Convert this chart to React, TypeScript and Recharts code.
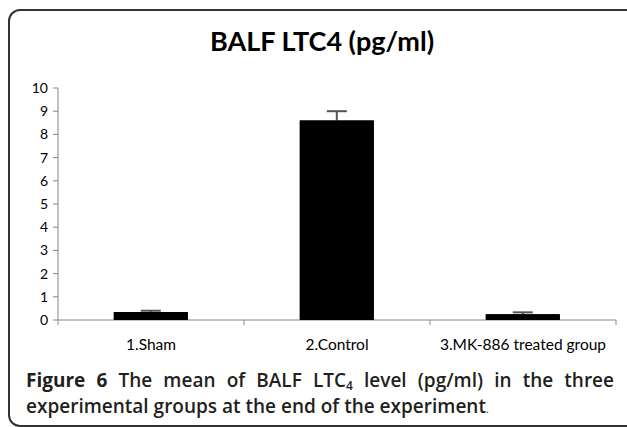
import React from "react";
import { BarChart, Bar, XAxis, YAxis, ErrorBar } from "recharts";

// chart values
const groups = ["1.Sham", "2.Control", "3.MK-886 treated group"];
const meanLTC4 = [0.35, 8.6, 0.25];
const upperError = [0.05, 0.4, 0.08];
const yTicks = [0, 1, 2, 3, 4, 5, 6, 7, 8, 9, 10];

// lower arm is tucked just inside the bar, so the black bar drawn on top hides it
const data = groups.map((g, i) => ({
  group: g,
  value: meanLTC4[i],
  err: [0.15, upperError[i]],
}));

const axisGray = "#868686";

// category label plus Excel-style tick marks on the category boundaries
const CategoryTick = (props: any) => {
  const { x, y, payload, index, width, visibleTicksCount } = props;
  const band = width / visibleTicksCount;
  return (
    <g>
      {index === 0 && (
        <line x1={x - band / 2} x2={x - band / 2} y1={y} y2={y + 5} stroke={axisGray} />
      )}
      <line x1={x + band / 2} x2={x + band / 2} y1={y} y2={y + 5} stroke={axisGray} />
      <text x={x} y={y + 30} textAnchor="middle" fontSize={15.5} fill="#000" fontFamily="Lato">
        {payload.value}
      </text>
    </g>
  );
};

export default function App() {
  return (
    <div style={{ position: "absolute", left: 0, top: 0, width: 627, height: 427, overflow: "hidden", background: "#fff" }}>
      <div
        style={{
          position: "absolute",
          left: 8,
          top: 9,
          width: 640,
          height: 414,
          border: "2px solid #333",
          borderRadius: 12,
        }}
      />
      <div
        style={{
          position: "absolute",
          left: 8,
          width: 628,
          top: 24,
          textAlign: "center",
          fontFamily: "Lato",
          fontWeight: 700,
          fontSize: 27,
          color: "#000",
        }}
      >
        BALF LTC4 (pg/ml)
      </div>
      <div style={{ position: "absolute", left: 0, top: 0 }}>
        <BarChart
          width={627}
          height={370}
          data={data}
          margin={{ top: 88, right: 11, left: 0, bottom: 10 }}
          barCategoryGap="30%"
        >
          <XAxis
            dataKey="group"
            height={40}
            interval={0}
            tickLine={false}
            tickSize={0}
            tickMargin={0}
            stroke={axisGray}
            tick={<CategoryTick />}
          />
          <XAxis xAxisId="cover" dataKey="group" hide />
          <YAxis
            width={58}
            domain={[0, 10]}
            ticks={yTicks}
            interval={0}
            stroke={axisGray}
            tickSize={5}
            tickMargin={5}
            tick={{ fill: "#000", fontSize: 14, fontFamily: "Lato" }}
          />
          <Bar dataKey="value" fill="#000" isAnimationActive={false}>
            <ErrorBar dataKey="err" width={10} stroke="#555" strokeWidth={2} isAnimationActive={false} />
          </Bar>
          <Bar {...({ zIndex: 1000 } as any)} xAxisId="cover" dataKey="value" fill="#000" isAnimationActive={false} />
        </BarChart>
      </div>
      <div
        style={{
          position: "absolute",
          left: 26,
          top: 370,
          width: 588,
          fontFamily: "Open Sans",
          fontSize: 19,
          fontWeight: 600,
          color: "#231f20",
          lineHeight: "21px",
          whiteSpace: "nowrap",
        }}
      >
        <div style={{ textAlign: "justify", textAlignLast: "justify" }}>
          <span style={{ fontWeight: 700 }}>Figure 6</span> The mean of BALF LTC
          <sub style={{ fontSize: 12, verticalAlign: "-3px" }}>4</sub> level (pg/ml) in the three
        </div>
        <div>
          experimental groups at the end of the experiment<span style={{ fontWeight: 400, fontSize: 11 }}>.</span>
        </div>
      </div>
    </div>
  );
}
